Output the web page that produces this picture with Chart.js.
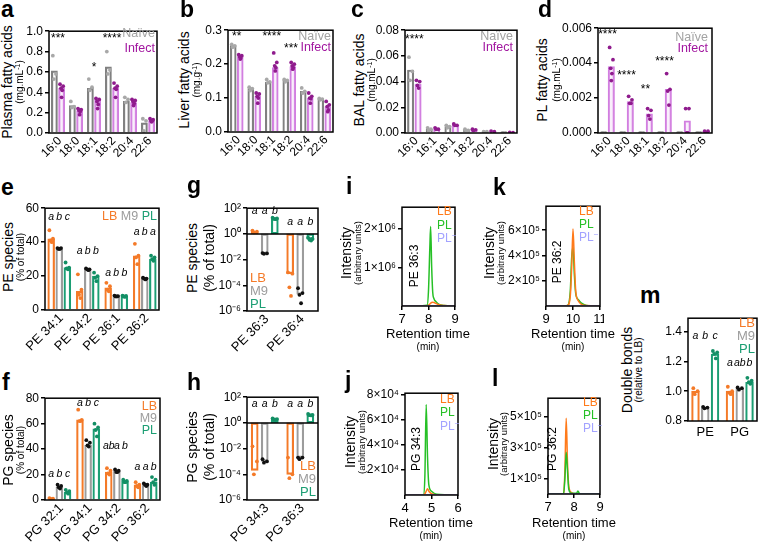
<!DOCTYPE html>
<html lang="en">
<head>
<meta charset="UTF-8">
<title>Fatty acids and phospholipid species</title>
<script src="https://cdn.jsdelivr.net/npm/chart.js"></script>
<style>
  body { margin: 0; background: #fff; }
  #fig { position: relative; width: 760px; height: 545px; overflow: hidden;
         font-family: 'Liberation Sans', Arial, Helvetica, sans-serif; color: #000; }
  #fig canvas { position: absolute; }
  .t { position: absolute; white-space: nowrap; line-height: 1; }
  .vt { position: absolute; white-space: nowrap; line-height: 1; transform: translate(-50%, -50%) rotate(-90deg); }
  .pl { position: absolute; font-weight: bold; font-size: 23px; line-height: 1; }
  sup { font-size: 0.7em; line-height: 0; vertical-align: 0.45em; }
</style>
</head>
<body>
<div id="fig"></div>
<script>
// ---- a-d: fatty acids, naive vs infected ----
const faCats = ['16:0', '18:0', '18:1', '18:2', '20:4', '22:6'];
const balCats = ['16:0', '16:1', '18:1', '18:2', '20:4', '22:6'];

const plasmaNaive = [0.61, 0.27, 0.44, 0.65, 0.31, 0.10];
const plasmaInfect = [0.44, 0.22, 0.32, 0.44, 0.30, 0.12];
const plasmaNaivePts = [[0.76, 0.58, 0.53], [0.31, 0.26, 0.25], [0.53, 0.45, 0.42], [0.80, 0.62, 0.58], [0.35, 0.33, 0.30], [0.14, 0.12, 0.02]];
const plasmaInfectPts = [[0.48, 0.46, 0.44, 0.42, 0.35], [0.24, 0.23, 0.22, 0.21, 0.18], [0.34, 0.33, 0.31, 0.28, 0.24], [0.49, 0.46, 0.44, 0.43, 0.35], [0.33, 0.32, 0.31, 0.29, 0.27], [0.14, 0.13, 0.12, 0.12, 0.11]];

const liverNaive = [0.255, 0.128, 0.147, 0.152, 0.120, 0.097];
const liverInfect = [0.222, 0.105, 0.190, 0.193, 0.100, 0.075];
const liverNaivePts = [[0.258, 0.254, 0.250], [0.132, 0.128, 0.122], [0.155, 0.148, 0.145], [0.155, 0.152, 0.148], [0.130, 0.120, 0.115], [0.099, 0.097, 0.095]];
const liverInfectPts = [[0.228, 0.225, 0.222, 0.218, 0.215], [0.115, 0.112, 0.105, 0.100, 0.085], [0.233, 0.205, 0.195, 0.190, 0.180], [0.205, 0.200, 0.195, 0.190, 0.185], [0.115, 0.105, 0.100, 0.098, 0.085], [0.090, 0.080, 0.075, 0.065, 0.060]];

const balNaive = [0.049, 0.003, 0.005, 0.002, 0.001, 0.0];
const balInfect = [0.038, 0.003, 0.006, 0.0025, 0.0012, 0.0003];
const balNaivePts = [[0.059, 0.048, 0.041], [0.004, 0.003, 0.002], [0.006, 0.005, 0.004], [0.003, 0.002, 0.002], [0.001, 0.001, 0.0005], [0, 0, 0]];
const balInfectPts = [[0.041, 0.040, 0.037, 0.035], [0.004, 0.003, 0.003], [0.007, 0.006, 0.006], [0.003, 0.0025, 0.002], [0.0015, 0.001], [0.0004, 0.0002]];

const plfaNaive = [0, 0, 0, 0, 0, 0];
const plfaInfect = [0.0038, 0.0018, 0.0011, 0.0025, 0.0007, 0.0001];
const plfaNaivePts = [[0, 0, 0], [0, 0, 0], [0, 0, 0], [0, 0, 0], [0, 0, 0], [0, 0, 0]];
const plfaInfectPts = [[0.0049, 0.0042, 0.0037, 0.0034, 0.0030], [0.0021, 0.0019, 0.0017, 0.0017], [0.0014, 0.0013, 0.0010, 0.0008], [0.0034, 0.0025, 0.0024, 0.0016], [0.0014, 0.0014, 0, 0], [0.0001, 0.0001, 0, 0]];

const plasmaTicks = [0, 0.2, 0.4, 0.6, 0.8, 1.0];
const liverTicks = [0, 0.1, 0.2, 0.3];
const balTicks = [0, 0.02, 0.04, 0.06, 0.08];
const plfaTicks = [0, 0.002, 0.004, 0.006];

// significance stars: [category index, y, text]
const plasmaStars = [[0, 0.93, '***'], [2, 0.64, '*'], [3, 0.93, '****']];
const liverStars = [[0, 0.28, '**'], [2, 0.28, '****'], [3.1, 0.245, '***']];
const balStars = [[0, 0.073, '****']];
const plfaStars = [[0, 0.0056, '****'], [1, 0.0033, '****'], [2, 0.0025, '**'], [3, 0.0041, '****']];

// ---- e-h: PE / PG species in LB, M9, PL ----
const peCats = ['PE 34:1', 'PE 34:2', 'PE 36:1', 'PE 36:2'];
const peLB = [42, 11, 13, 32];
const peM9 = [36, 24, 8, 19];
const pePL = [25, 20, 8, 30];
const peLBPts = [[47, 42, 41, 40], [21, 12, 9, 7], [16, 14, 12, 11], [39, 32, 31, 27]];
const peM9Pts = [[36.5, 36.5, 36, 36], [24.5, 24, 24, 23.5], [8.5, 8.2, 8, 8], [19, 18.5, 18.5, 18]];
const pePLPts = [[28, 25, 24.5, 24], [22, 20, 19, 17], [8.5, 8.3, 8, 7.8], [32, 31, 30, 29]];
const peLetters = [['a', 'b', 'c'], ['a', 'b', 'b'], ['a', 'b', 'b'], ['a', 'b', 'a']];
const peLetterY = [55, 35, 22, 46];
const peTicks = [0, 20, 40, 60];

const pgCats = ['PG 32:1', 'PG 34:1', 'PG 34:2', 'PG 36:2'];
const pgLB = [1, 63, 22, 12];
const pgM9 = [10, 43, 23, 12];
const pgPL = [6, 56, 15, 14];
const pgLBPts = [[1.5, 1, 0.8, 0.5], [71, 63, 62, 62], [25, 23, 21, 20], [14, 12, 11, 10]];
const pgM9Pts = [[12, 11, 10, 9], [47, 45, 43, 42], [24, 23, 22, 22], [13, 12, 12, 11]];
const pgPLPts = [[8, 7, 6, 5], [60, 57, 55, 50], [16, 15, 14, 14], [18, 16, 14, 12]];
const pgLetters = [['a', 'b', 'c'], ['a', 'b', 'c'], ['ab', 'a', 'b'], ['a', 'a', 'b']];
const pgLetterY = [20, 76, 42, 26];
const pgTicks = [0, 20, 40, 60, 80];

const pe2Cats = ['PE 36:3', 'PE 36:4'];
const pe2LB = [1.5, 8e-4];
const pe2M9 = [0.03, 2e-5];
const pe2PL = [15, 0.4];
const pe2LBPts = [[1.8, 1.5, 1.3], [1e-3, 8e-4, 7e-5, 1.5e-5]];
const pe2M9Pts = [[0.032, 0.03, 0.028], [6e-5, 2.5e-5, 1.8e-5, 4e-6]];
const pe2PLPts = [[18, 16, 15, 14], [0.5, 0.4, 0.35, 0.3]];
const pe2Letters = [['a', 'a', 'b'], ['a', 'a', 'b']];
const pe2LetterY = [55, 8];

const pg2Cats = ['PG 34:3', 'PG 36:3'];
const pg2LB = [2e-4, 1e-4];
const pg2M9 = [1e-3, 2e-3];
const pg2PL = [2, 4];
const pg2LBPts = [[1.5e-2, 1e-3, 1e-4], [2e-3, 1e-4, 5e-5]];
const pg2M9Pts = [[1.5e-3, 1e-3, 8e-4], [2e-3, 2e-3, 1.5e-3]];
const pg2PLPts = [[2.2, 2, 1.9, 1.8], [5, 4.2, 4, 3.8]];
const pg2Letters = [['a', 'a', 'b'], ['a', 'a', 'b']];
const pg2LetterY = [30, 30];
const logTicks = [1e-6, 1e-5, 1e-4, 1e-3, 1e-2, 1e-1, 1, 10, 100];

// ---- m: double bonds ----
const dbCats = ['PE', 'PG'];
const dbLB = [1.0, 1.0];
const dbM9 = [0.89, 1.02];
const dbPL = [1.25, 1.06];
const dbLBPts = [[1.02, 1.0, 0.98], [1.03, 1.0, 0.99, 0.98]];
const dbM9Pts = [[0.895, 0.89, 0.885], [1.025, 1.02, 1.01]];
const dbPLPts = [[1.27, 1.26, 1.25, 1.22], [1.09, 1.07, 1.06, 1.05]];
const dbLetters = [['a', 'b', 'c'], ['a', 'ab', 'b']];
const dbLetterY = [1.37, 1.19];
const dbTicks = [0.8, 1.0, 1.2, 1.4];

// ---- i-l: chromatograms ----
const iTime = [7.0, 7.5, 7.95, 8.0, 8.05, 8.08, 8.12, 8.16, 8.2, 8.3, 8.4, 8.6, 9.0];
const iLB = [0, 0, 0, 0.02e6, 0.05e6, 0.07e6, 0.09e6, 0.1e6, 0.09e6, 0.06e6, 0.03e6, 0.01e6, 0];
const iPL = [0, 0, 0.02e6, 0.4e6, 1.5e6, 2.05e6, 1.0e6, 0.35e6, 0.2e6, 0.1e6, 0.04e6, 0.01e6, 0];
const iPLm = [0, 0, 0, 0, 0, 0, 0, 0, 0, 0, 0, 0, 0];

const kTime = [9.0, 9.6, 9.8, 9.9, 9.95, 10.0, 10.05, 10.1, 10.2, 10.3, 10.5, 11.0];
const kLB = [0, 0, 0.05e5, 0.8e5, 3e5, 6.1e5, 3.5e5, 1.2e5, 0.4e5, 0.15e5, 0.03e5, 0];
const kPL = [0, 0, 0.05e5, 1.2e5, 3.8e5, 4.7e5, 2.5e5, 1e5, 0.5e5, 0.25e5, 0.05e5, 0];
const kPLm = [0, 0, 0, 0, 0, 0, 0, 0, 0, 0, 0, 0];

const jTime = [4.0, 4.6, 4.7, 4.75, 4.8, 4.85, 4.9, 5.0, 5.2, 6.0];
const jLB = [0, 0, 0, 0.1e4, 0.3e4, 0.5e4, 0.3e4, 0.1e4, 0, 0];
const jPL = [0, 0, 0.02e4, 1.5e4, 7.2e4, 3e4, 0.8e4, 0.3e4, 0.05e4, 0];
const jPLm = [0, 0, 0, 0, 0, 0, 0, 0, 0, 0];

const lTime = [7.0, 7.5, 7.6, 7.65, 7.7, 7.75, 7.8, 7.9, 8.1, 8.15, 8.2, 8.3, 9.0];
const lLB = [0, 0, 0.05e5, 1.5e5, 4.9e5, 2e5, 0.5e5, 0.1e5, 0, 0, 0, 0, 0];
const lPL = [0, 0, 0.05e5, 1e5, 2.7e5, 1.5e5, 0.3e5, 0.05e5, 0.05e5, 0.2e5, 0.05e5, 0, 0];
const lPLm = [0, 0, 0, 0, 0, 0, 0, 0, 0, 0, 0, 0, 0];

const iTicks = [1e6, 2e6];
const kTicks = [2e5, 4e5, 6e5];
const jTicks = [2e4, 4e4, 6e4, 8e4];
const lTicks = [1e5, 3e5, 5e5];

// colours
const C = {
  naive: '#808080', naiveTxt: '#a3a3a3', naivePt: '#a8a8a8',
  inf: '#d27ee0', infFill: 'rgba(230,190,240,0.25)', infTxt: '#a1169f', infPt: '#8f1b8d',
  lb: '#f47a28', m9: '#9c9c9c', m9Pt: '#111111', pl: '#1b9e73', plPt: '#138f65',
  cLB: '#ff7a1a', cPL: '#26c026', cPLm: '#a3a3ff'
};

const FF = "'Liberation Sans', Arial, Helvetica, sans-serif";
Chart.defaults.font.family = FF;
Chart.defaults.color = '#000';

const fig = document.getElementById('fig');
const SUP = { '-': '⁻', '0': '⁰', '1': '¹', '2': '²', '3': '³', '4': '⁴', '5': '⁵', '6': '⁶', '7': '⁷', '8': '⁸', '9': '⁹' };
const sup = n => String(n).split('').map(c => SUP[c]).join('');

function mkCanvas(r, yw, xh, pt, pr) {
  const [L, T, R, B] = r;
  const c = document.createElement('canvas');
  const w = R - L + yw + pr, h = B - T + pt + xh;
  c.width = w; c.height = h;
  c.style.left = (L - yw) + 'px'; c.style.top = (T - pt) + 'px';
  c.style.width = w + 'px'; c.style.height = h + 'px';
  fig.appendChild(c);
  return c;
}

// horizontal text, anchored at x (left/right/center) and vertical centre y
function ht(html, x, y, size, color, align) {
  const d = document.createElement('div');
  d.className = 't';
  d.innerHTML = html;
  const tx = align === 'right' ? '-100%' : align === 'center' ? '-50%' : '0';
  d.style.cssText = `left:${x}px;top:${y}px;font-size:${size}px;color:${color || '#000'};transform:translate(${tx},-50%)`;
  fig.appendChild(d);
}
function vt(html, x, y, size) {
  const d = document.createElement('div');
  d.className = 'vt';
  d.innerHTML = html;
  d.style.cssText = `left:${x}px;top:${y}px;font-size:${size}px`;
  fig.appendChild(d);
}
function letter(s, x, base) {
  const d = document.createElement('div');
  d.className = 'pl';
  d.textContent = s;
  d.style.left = x + 'px';
  d.style.top = (base - 19) + 'px';
  fig.appendChild(d);
}

const framePlugin = {
  id: 'frame',
  afterDraw(chart, args, o) {
    const { left, top, right, bottom } = chart.chartArea, ctx = chart.ctx;
    ctx.save();
    ctx.strokeStyle = '#000';
    ctx.lineWidth = 1.5;
    ctx.strokeRect(left, top, right - left, bottom - top);
    if (o.unity) {
      const y = Math.round(chart.scales.y.getPixelForValue(1));
      ctx.beginPath(); ctx.moveTo(left, y); ctx.lineTo(right, y); ctx.stroke();
    }
    ctx.restore();
  }
};

const notesPlugin = {
  id: 'notes',
  afterDatasetsDraw(chart, args, o) {
    const ctx = chart.ctx, xs = chart.scales.x, ys = chart.scales.y;
    (o.items || []).forEach(n => {
      ctx.save();
      ctx.font = n.font;
      ctx.fillStyle = '#000';
      ctx.textAlign = 'center';
      ctx.textBaseline = 'middle';
      ctx.fillText(n.t, xs.getPixelForValue(n.x), ys.getPixelForValue(n.y));
      ctx.restore();
    });
  }
};

// category labels under the bars, drawn at the category positions of the x scale
const xLabelPlugin = {
  id: 'xlabels',
  afterDraw(chart, args, o) {
    if (!o.cats) return;
    const ctx = chart.ctx, xs = chart.scales.x, b = chart.chartArea.bottom;
    o.cats.forEach((c, i) => {
      const px = xs.getPixelForValue(i);
      ctx.save();
      ctx.font = o.font;
      ctx.fillStyle = '#000';
      if (o.rot) {
        ctx.translate(px + 2, b + 6);
        ctx.rotate(-Math.PI / 4);
        ctx.textAlign = 'right';
        ctx.textBaseline = 'middle';
        ctx.fillText(c, 0, 0);
      } else {
        ctx.textAlign = 'center';
        ctx.textBaseline = 'top';
        ctx.fillText(c, px, b + 5);
      }
      ctx.restore();
    });
  }
};

function yAxis(p) {
  const y = p.y;
  return {
    type: y.log ? 'logarithmic' : 'linear', min: y.min, max: y.max,
    afterFit: s => { s.width = p.yw; },
    afterBuildTicks: s => { s.ticks = y.ticks.map(v => ({ value: v })); },
    ticks: { font: { size: y.fs || 12 }, color: '#000', padding: 2, callback: y.fmt },
    grid: { drawOnChartArea: false, tickLength: 4, color: '#000', lineWidth: 1.5 },
    border: { display: false }
  };
}

function barPanel(p) {
  const [L, , R] = p.rect;
  const n = p.cats.length, ns = p.series.length, cp = p.cp || 0.85, slot = cp / ns;
  const barPx = (R - L) / n * slot * (p.bp || 0.8);
  const off = j => (j - (ns - 1) / 2) * slot;
  const jit = [-0.22, 0.22, -0.08, 0.08, 0.0];
  const ds = [];
  p.series.forEach((s, j) => ds.push({
    type: 'bar', order: 2, grouped: false, barThickness: barPx,
    data: s.vals.map((v, i) => ({ x: i + off(j), y: p.y.log ? [1, v] : v })),
    borderColor: s.color, backgroundColor: s.fill || 'rgba(255,255,255,0)',
    borderWidth: 1.5, borderSkipped: p.y.log ? false : 'start'
  }));
  p.series.forEach((s, j) => {
    const pts = [];
    s.pts.forEach((arr, i) => arr.forEach((v, k) => pts.push({ x: i + off(j) + jit[k % jit.length] * slot, y: v })));
    ds.push({
      type: 'line', order: 1, showLine: false, data: pts,
      pointRadius: 1.9, pointHoverRadius: 0, pointBackgroundColor: s.ptColor, pointBorderWidth: 0
    });
  });
  const items = (p.notes || []).map(o => ({
    x: o[0] + (o[3] === undefined ? 0 : off(o[3])), y: o[1], t: o[2], font: p.noteFont
  }));
  new Chart(mkCanvas(p.rect, p.yw, p.xh, p.pt, p.pr), {
    type: 'bar',
    data: { datasets: ds },
    options: {
      responsive: false, animation: false, events: [],
      layout: { padding: { top: p.pt, right: p.pr, left: 0, bottom: 0 } },
      plugins: {
        legend: { display: false }, tooltip: { enabled: false }, notes: { items },
        frame: { unity: !!p.y.log },
        xlabels: { cats: p.cats, rot: p.rot, font: (p.xfs || 13) + 'px ' + FF }
      },
      scales: {
        x: {
          type: 'linear', min: -0.5, max: n - 0.5, offset: false,
          afterFit: s => { s.height = p.xh; s.paddingLeft = 0; s.paddingRight = 0; },
          ticks: { display: false }, grid: { display: false, offset: false }, border: { display: false }
        },
        y: yAxis(p)
      }
    },
    plugins: [framePlugin, notesPlugin, xLabelPlugin]
  });
}

function chromPanel(p) {
  const ds = p.series.map(s => ({
    data: p.t.map((t, i) => ({ x: t, y: s.y[i] })), borderColor: s.color, borderWidth: 1.5,
    pointRadius: 0, cubicInterpolationMode: 'monotone', fill: false
  }));
  new Chart(mkCanvas(p.rect, p.yw, p.xh, p.pt, p.pr), {
    type: 'line',
    data: { datasets: ds },
    options: {
      responsive: false, animation: false, events: [],
      layout: { padding: { top: p.pt, right: p.pr, left: 0, bottom: 0 } },
      plugins: { legend: { display: false }, tooltip: { enabled: false }, frame: {} },
      scales: {
        x: {
          type: 'linear', min: p.xmin, max: p.xmax, offset: false,
          afterFit: s => { s.height = p.xh; s.paddingLeft = 0; s.paddingRight = 0; },
          afterBuildTicks: s => { s.ticks = [p.xmin, p.xmin + 1, p.xmax].map(v => ({ value: v })); },
          ticks: { font: { size: 13 }, color: '#000', padding: 2 },
          grid: { drawOnChartArea: false, tickLength: 4, color: '#000', lineWidth: 1.5 },
          border: { display: false }
        },
        y: yAxis(p)
      }
    },
    plugins: [framePlugin]
  });
}

const fmtFix = d => v => v.toFixed(d);
const fmtLog = v => '10' + sup(Math.round(Math.log10(v)));
const fmtSci = e => v => (v === 0 ? '0' : Math.round(v / 10 ** e) + '×10' + sup(e));
const starFont = '12px ' + FF;
const letFont = 'italic 10.5px ' + FF;
const letterNotes = (lets, ys) => lets.flatMap((row, i) => row.map((t, j) => [i, ys[i], t, j]));

const nvSeries = (vals, pts) => ({ vals, pts, color: C.naive, ptColor: C.naivePt });
const ifSeries = (vals, pts) => ({ vals, pts, color: C.inf, fill: C.infFill, ptColor: C.infPt });
const grp = (lb, lbp, m9, m9p, pl, plp) => [
  { vals: lb, pts: lbp, color: C.lb, ptColor: C.lb },
  { vals: m9, pts: m9p, color: C.m9, ptColor: C.m9Pt },
  { vals: pl, pts: plp, color: C.pl, ptColor: C.plPt }
];

// a
barPanel({ rect: [49, 30, 157, 133], yw: 26, xh: 30, pt: 8, pr: 4, rot: 45, cp: 0.8, bp: 0.85, xfs: 12,
  cats: faCats, series: [nvSeries(plasmaNaive, plasmaNaivePts), ifSeries(plasmaInfect, plasmaInfectPts)],
  y: { min: 0, max: 1.0, ticks: plasmaTicks, fmt: fmtFix(1) }, notes: plasmaStars, noteFont: starFont });
// b
barPanel({ rect: [228, 29, 333, 132], yw: 26, xh: 30, pt: 8, pr: 4, rot: 45, cp: 0.8, bp: 0.85, xfs: 12,
  cats: faCats, series: [nvSeries(liverNaive, liverNaivePts), ifSeries(liverInfect, liverInfectPts)],
  y: { min: 0, max: 0.3, ticks: liverTicks, fmt: fmtFix(1) }, notes: liverStars, noteFont: starFont });
// c
barPanel({ rect: [405, 29, 517, 133], yw: 36, xh: 30, pt: 8, pr: 4, rot: 45, cp: 0.8, bp: 0.85, xfs: 12,
  cats: balCats, series: [nvSeries(balNaive, balNaivePts), ifSeries(balInfect, balInfectPts)],
  y: { min: 0, max: 0.08, ticks: balTicks, fmt: fmtFix(2) }, notes: balStars, noteFont: starFont });
// d
barPanel({ rect: [598, 27, 712, 133], yw: 42, xh: 30, pt: 8, pr: 4, rot: 45, cp: 0.8, bp: 0.85, xfs: 12,
  cats: faCats, series: [nvSeries(plfaNaive, plfaNaivePts), ifSeries(plfaInfect, plfaInfectPts)],
  y: { min: 0, max: 0.006, ticks: plfaTicks, fmt: fmtFix(3) }, notes: plfaStars, noteFont: starFont });
// e
barPanel({ rect: [45, 207, 159, 310], yw: 26, xh: 48, pt: 8, pr: 4, rot: 45, cp: 0.85, bp: 0.85,
  cats: peCats, series: grp(peLB, peLBPts, peM9, peM9Pts, pePL, pePLPts),
  y: { min: 0, max: 60, ticks: peTicks, fmt: fmtFix(0) }, notes: letterNotes(peLetters, peLetterY), noteFont: letFont });
// f
barPanel({ rect: [45, 397, 160, 500], yw: 26, xh: 45, pt: 8, pr: 4, rot: 45, cp: 0.85, bp: 0.85,
  cats: pgCats, series: grp(pgLB, pgLBPts, pgM9, pgM9Pts, pgPL, pgPLPts),
  y: { min: 0, max: 80, ticks: pgTicks, fmt: fmtFix(0) }, notes: letterNotes(pgLetters, pgLetterY), noteFont: letFont });
// g
barPanel({ rect: [247, 207, 318, 311], yw: 34, xh: 45, pt: 8, pr: 4, rot: 45, cp: 0.85, bp: 0.7,
  cats: pe2Cats, series: grp(pe2LB, pe2LBPts, pe2M9, pe2M9Pts, pe2PL, pe2PLPts),
  y: { log: true, min: 1e-6, max: 100, ticks: logTicks, fmt: fmtLog }, notes: letterNotes(pe2Letters, pe2LetterY), noteFont: letFont });
// h
barPanel({ rect: [247, 396, 318, 500], yw: 34, xh: 45, pt: 8, pr: 4, rot: 45, cp: 0.85, bp: 0.7,
  cats: pg2Cats, series: grp(pg2LB, pg2LBPts, pg2M9, pg2M9Pts, pg2PL, pg2PLPts),
  y: { log: true, min: 1e-6, max: 100, ticks: logTicks, fmt: fmtLog }, notes: letterNotes(pg2Letters, pg2LetterY), noteFont: letFont });
// m
barPanel({ rect: [688, 317, 757, 421], yw: 28, xh: 22, pt: 8, pr: 2, rot: 0, cp: 0.85, bp: 0.8, xfs: 13,
  cats: dbCats, series: grp(dbLB, dbLBPts, dbM9, dbM9Pts, dbPL, dbPLPts),
  y: { min: 0.8, max: 1.49, ticks: dbTicks, fmt: fmtFix(1) }, notes: letterNotes(dbLetters, dbLetterY), noteFont: letFont });

// i
chromPanel({ rect: [402, 204, 455, 306], yw: 50, xh: 22, pt: 6, pr: 4, t: iTime, xmin: 7, xmax: 9,
  series: [{ y: iPLm, color: C.cPLm }, { y: iLB, color: C.cLB }, { y: iPL, color: C.cPL }],
  y: { min: 0, max: 2.55e6, ticks: iTicks, fmt: fmtSci(6) } });
// k
chromPanel({ rect: [546, 203, 600, 306], yw: 50, xh: 22, pt: 6, pr: 4, t: kTime, xmin: 9, xmax: 11,
  series: [{ y: kPLm, color: C.cPLm }, { y: kLB, color: C.cLB }, { y: kPL, color: C.cPL }],
  y: { min: 0, max: 7.9e5, ticks: kTicks, fmt: fmtSci(5) } });
// j
chromPanel({ rect: [405, 390, 458, 495], yw: 50, xh: 22, pt: 6, pr: 4, t: jTime, xmin: 4, xmax: 6,
  series: [{ y: jPLm, color: C.cPLm }, { y: jLB, color: C.cLB }, { y: jPL, color: C.cPL }],
  y: { min: 0, max: 8.1e4, ticks: jTicks, fmt: fmtSci(4) } });
// l
chromPanel({ rect: [548, 395, 600, 494], yw: 50, xh: 22, pt: 6, pr: 4, t: lTime, xmin: 7, xmax: 9,
  series: [{ y: lPLm, color: C.cPLm }, { y: lPL, color: C.cPL }, { y: lLB, color: C.cLB }],
  y: { min: 0, max: 6.2e5, ticks: lTicks, fmt: fmtSci(5) } });

// panel letters
[['a', 1, 17], ['b', 180, 17], ['c', 351, 17], ['d', 538, 17],
 ['e', 1, 195], ['g', 187, 193], ['i', 346, 194], ['k', 493, 195], ['m', 640, 303],
 ['f', 2, 390], ['h', 187, 390], ['j', 345, 388], ['l', 492, 386]].forEach(a => letter(...a));

// axis titles
vt('Plasma fatty acids', 7, 82, 14); vt('(mg.mL<sup>-1</sup>)', 20, 82, 10);
vt('Liver fatty acids', 184, 80, 14); vt('(mg.g<sup>-1</sup>)', 197, 80, 10);
vt('BAL fatty acids', 359, 80, 14); vt('(mg.mL<sup>-1</sup>)', 372, 80, 10);
vt('PL fatty acids', 542, 80, 14); vt('(mg.mL<sup>-1</sup>)', 557, 80, 10);
vt('PE species', 8, 257, 14); vt('(% of total)', 21, 257, 10);
vt('PG species', 8, 450, 14); vt('(% of total)', 21, 450, 10);
vt('PE species', 192, 258, 14); vt('(% of total)', 209, 258, 14);
vt('PG species', 192, 447, 14); vt('(% of total)', 209, 447, 14);
vt('Intensity', 346, 253, 14); vt('(arbitrary units)', 358, 253, 9.5);
vt('Intensity', 489, 253, 14); vt('(arbitrary units)', 501, 253, 9.5);
vt('Intensity', 350, 442, 14); vt('(arbitrary units)', 362, 442, 9.5);
vt('Intensity', 493, 444, 14); vt('(arbitrary units)', 504, 444, 9.5);
vt('Double bonds', 627, 370, 14); vt('(relative to LB)', 639, 370, 10);
vt('PE 36:3', 414, 266, 12); vt('PE 36:2', 557, 262, 12);
vt('PG 34:3', 416, 449, 12); vt('PG 36:2', 552, 449, 12);
[[428, 333, 347], [573, 333, 347], [431, 522, 536], [574, 522, 536]].forEach(([x, y1, y2]) => {
  ht('Retention time', x, y1, 13, '#000', 'center');
  ht('(min)', x, y2, 10, '#000', 'center');
});

// legends
[[155, 33, 48], [331, 36, 47], [513, 36, 47], [708, 37, 48]].forEach(([x, y1, y2]) => {
  ht('Naïve', x, y1, 12.5, C.naiveTxt, 'right');
  ht('Infect', x, y2, 12.5, C.infTxt, 'right');
});
ht(`<span style="color:${C.lb}">LB</span> <span style="color:${C.m9}">M9</span> <span style="color:${C.pl}">PL</span>`, 157, 216, 12.5, '#000', 'right');
const vLegend = (x, ys, align, size) => {
  ht('LB', x, ys[0], size, C.lb, align); ht('M9', x, ys[1], size, C.m9, align); ht('PL', x, ys[2], size, C.pl, align);
};
vLegend(157, [406, 418, 430], 'right', 12.5);
vLegend(250, [277, 290, 303], 'left', 13);
vLegend(316, [465, 478, 491], 'right', 13);
vLegend(755, [322, 335, 348], 'right', 13);
const cLegend = (x, ys) => {
  ht('LB', x, ys[0], 12, C.cLB, 'left'); ht('PL', x, ys[1], 12, C.cPL, 'left'); ht('PL<sup>−</sup>', x, ys[2], 12, C.cPLm, 'left');
};
cLegend(437, [211, 225, 238]);
cLegend(579, [211, 224, 237]);
cLegend(440, [399, 412, 426]);
cLegend(583, [402, 415, 428]);
</script>
</body>
</html>
